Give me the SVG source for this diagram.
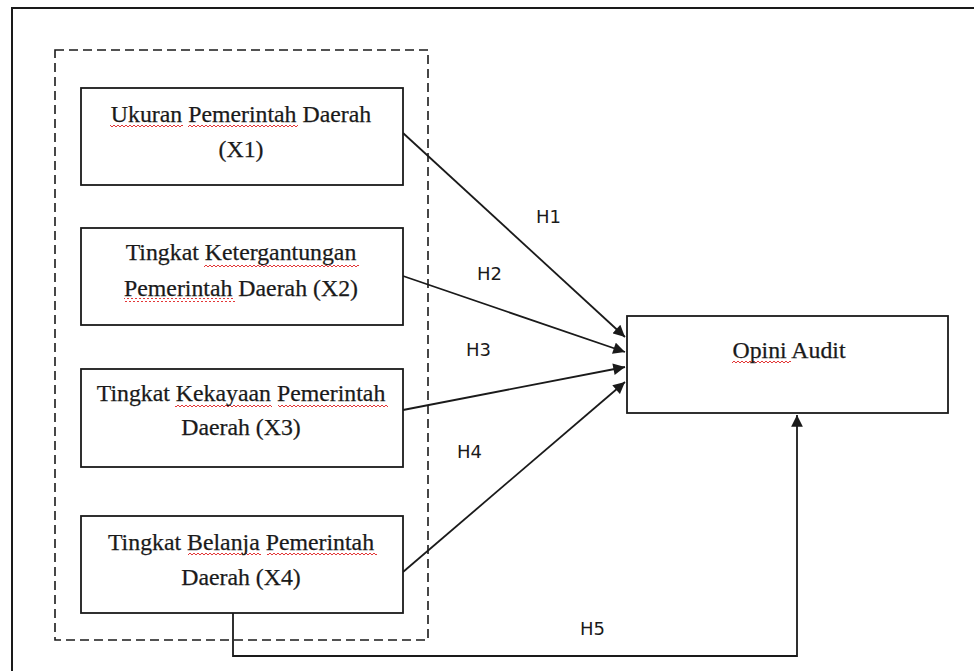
<svg xmlns="http://www.w3.org/2000/svg" width="974" height="671" viewBox="0 0 974 671">
  <style>
    .box { fill: #fff; stroke: #1a1a1a; stroke-width: 1.8; }
    .t { font-family: "Liberation Serif", "Times New Roman", serif; font-size: 23.8px; fill: #1a1a1a; stroke: #1a1a1a; stroke-width: 0.25; text-anchor: middle; }
    .h { font-family: "DejaVu Sans", "Open Sans", sans-serif; font-size: 18px; fill: #1a1a1a; }
    .ln { fill: none; stroke: #1a1a1a; stroke-width: 1.8; }
    .sq { fill: url(#squig); }
  </style>
  <defs>
    <marker id="arr" viewBox="0 0 10 10" refX="10" refY="5" markerWidth="7" markerHeight="6.5" markerUnits="strokeWidth" orient="auto">
      <path d="M0,0 L10,5 L0,10 Z" fill="#1a1a1a"/>
    </marker>
    <pattern id="squig" x="0" y="0" width="4" height="4" patternUnits="userSpaceOnUse">
      <path d="M0,3 L2,1 L4,3" fill="none" stroke="#e02020" stroke-width="0.9"/>
    </pattern>
  </defs>
  <rect width="974" height="671" fill="#fff"/>
  <path d="M12,671 V8 H974" fill="none" stroke="#1a1a1a" stroke-width="2"/>
  <rect id="group" x="55" y="50" width="373" height="590" fill="none" stroke="#1a1a1a" stroke-width="1.6" stroke-dasharray="9 5"/>

  <g id="connectors">
    <line class="ln" x1="403" y1="133" x2="625" y2="337" marker-end="url(#arr)"/>
    <line class="ln" x1="403" y1="276" x2="625" y2="352" marker-end="url(#arr)"/>
    <line class="ln" x1="403" y1="410" x2="625" y2="367" marker-end="url(#arr)"/>
    <line class="ln" x1="403" y1="572" x2="625" y2="382" marker-end="url(#arr)"/>
    <path class="ln" d="M233,613 V656 H797 V415" marker-end="url(#arr)"/>
    <text class="h" x="536" y="223">H1</text>
    <text class="h" x="477" y="280">H2</text>
    <text class="h" x="466" y="356">H3</text>
    <text class="h" x="457" y="458">H4</text>
    <text class="h" x="580" y="635">H5</text>
  </g>

  <g id="x1">
    <rect class="box" x="81" y="88" width="322" height="97"/>
    <rect class="sq" x="110" y="123" width="73" height="4"/>
    <rect class="sq" x="188" y="123" width="110" height="4"/>
    <text class="t" x="241" y="122">Ukuran Pemerintah Daerah</text>
    <text class="t" x="241" y="157">(X1)</text>
  </g>
  <g id="x2">
    <rect class="box" x="81" y="228" width="322" height="97"/>
    <rect class="sq" x="204" y="263" width="155" height="4"/>
    <rect class="sq" x="124" y="298" width="111" height="4"/>
    <text class="t" x="241" y="260">Tingkat Ketergantungan</text>
    <text class="t" x="241" y="296">Pemerintah Daerah (X2)</text>
  </g>
  <g id="x3">
    <rect class="box" x="81" y="369" width="322" height="98"/>
    <rect class="sq" x="175" y="403" width="97" height="4"/>
    <rect class="sq" x="278" y="403" width="110" height="4"/>
    <text class="t" x="241" y="401">Tingkat Kekayaan Pemerintah</text>
    <text class="t" x="241" y="435">Daerah (X3)</text>
  </g>
  <g id="x4">
    <rect class="box" x="81" y="516" width="322" height="97"/>
    <rect class="sq" x="188" y="553" width="73" height="4"/>
    <rect class="sq" x="267" y="553" width="110" height="4"/>
    <text class="t" x="241" y="550">Tingkat Belanja Pemerintah</text>
    <text class="t" x="241" y="585">Daerah (X4)</text>
  </g>
  <g id="y">
    <rect class="box" x="627" y="316" width="321" height="97"/>
    <rect class="sq" x="732" y="361" width="59" height="4"/>
    <text class="t" x="789" y="358">Opini Audit</text>
  </g>
</svg>
